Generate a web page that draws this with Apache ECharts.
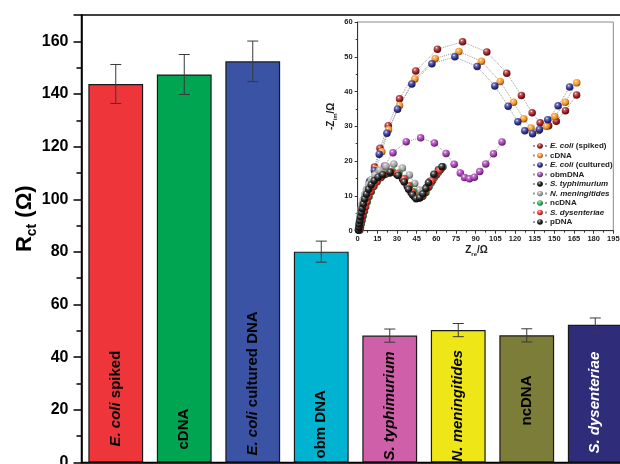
<!DOCTYPE html>
<html>
<head>
<meta charset="utf-8">
<script src="https://cdn.jsdelivr.net/npm/echarts@6/dist/echarts.min.js"></script>
<style>
  html, body { margin: 0; padding: 0; background: #ffffff; }
  #chart { width: 620px; height: 464px; }
</style>
</head>
<body>
<div id="chart"></div>
<script>
// ---- Charge-transfer resistance per DNA target ----
const categories = ['E. coli spiked', 'cDNA', 'E. coli cultured DNA', 'obm DNA',
  'S. typhimurium', 'N. meningitides', 'ncDNA', 'S. dysenteriae'];
const barLabels = ['{i|E. coli} spiked', 'cDNA', '{i|E. coli} cultured DNA', 'obm DNA',
  '{i|S. typhimurium}', '{i|N. meningitides}', 'ncDNA', '{i|S. dysenteriae}'];
const rctValues = [143.8, 147.4, 152.4, 80.1, 48.2, 50.3, 48.3, 52.3];
const rctErrors = [7.4, 7.6, 7.7, 4.0, 2.5, 2.5, 2.5, 2.6];
const rctTicks = [0, 20, 40, 60, 80, 100, 120, 140, 160];

// ---- Nyquist data (Zre, -Zim) in ohm ----
const ecoliSpiked = [[1.0,0.3],[1.5,1.2],[2.1,2.4],[2.9,3.9],[3.9,5.7],[5.1,7.7],[6.7,10.2],[8.9,13.9],[12.8,18.3],[17.0,23.7],[23.3,30.2],[31.9,37.9],[44.3,45.9],[60.8,52.2],[80.0,54.3],[98.5,51.4],[113.7,45.3],[124.9,38.9],[133.1,33.9],[139.2,31.0],[145.7,30.2],[151.5,31.5],[158.5,34.5],[167.0,39.0]];
const cdna = [[1.1,0.2],[1.6,1.1],[2.3,2.3],[3.1,3.8],[4.2,5.6],[5.6,7.7],[7.4,10.3],[9.9,13.6],[13.9,17.7],[18.4,22.7],[23.5,29.0],[31.9,36.0],[43.6,43.6],[59.1,49.5],[77.2,51.5],[94.4,48.7],[108.7,42.9],[118.9,36.9],[126.7,32.2],[132.2,29.5],[138.1,28.8],[144.0,30.0],[150.3,32.8],[158.4,36.9],[167.1,42.5]];
const ecoliCultured = [[0.9,0.3],[1.4,1.3],[2.0,2.6],[2.8,4.2],[3.8,6.2],[5.1,8.6],[6.8,11.3],[9.2,14.3],[12.7,17.3],[16.4,22.0],[22.3,28.0],[30.4,34.9],[41.3,42.2],[56.6,48.0],[74.1,50.0],[91.1,47.2],[104.6,41.6],[114.8,35.8],[122.2,31.3],[127.5,28.7],[133.4,27.9],[138.7,29.1],[145.0,31.9],[152.9,35.9],[161.7,41.3]];
const obmdna = [[0.7,0.3],[1.2,1.5],[1.8,2.8],[2.5,4.2],[3.4,5.7],[4.5,7.3],[5.8,9.0],[7.4,10.8],[9.4,12.7],[12.0,14.6],[15.5,16.6],[20.4,18.6],[26.9,22.4],[37.0,25.6],[48.0,26.7],[58.5,25.2],[67.4,22.2],[73.6,19.1],[78.3,16.6],[81.5,15.3],[85.3,14.9],[89.0,15.4],[93.1,17.0],[97.7,19.2],[103.6,22.1],[110.1,25.5]];
const sTyphimurium = [[0.7,0.2],[1.0,1.0],[1.4,1.9],[1.8,2.9],[2.3,4.0],[2.9,5.2],[3.6,6.4],[4.5,7.7],[5.6,9.1],[6.9,10.5],[8.5,11.9],[10.5,13.1],[13.0,14.2],[16.0,15.2],[19.6,16.0],[24.5,16.6],[29.8,16.2],[34.3,14.8],[37.8,12.8],[40.7,11.0],[43.2,9.8],[45.4,9.3],[47.7,9.6],[50.0,10.8],[52.5,12.4],[55.2,14.2],[58.3,16.0],[61.6,17.5],[64.8,18.4]];
const nMeningitides = [[0.5,0.5],[0.8,1.5],[1.1,2.6],[1.5,3.8],[2.0,5.0],[2.6,6.3],[3.3,7.6],[4.2,9.0],[5.3,10.4],[6.7,11.9],[8.4,13.3],[10.6,14.7],[13.3,16.0],[16.8,17.4],[21.6,18.6],[27.5,19.2],[34.1,18.0],[39.4,16.0],[43.5,13.6],[47.0,11.7],[50.2,11.3],[53.2,12.2],[56.0,13.7],[58.6,15.3],[61.7,16.8],[65.0,18.3]];
const ncdna = [[1.6,0.2],[2.1,1.0],[2.7,2.0],[3.4,3.1],[4.2,4.3],[5.1,5.6],[6.1,6.9],[7.3,8.3],[8.7,9.8],[10.4,11.3],[12.4,12.8],[14.9,14.2],[17.9,15.4],[21.6,16.4],[26.4,17.1],[31.4,16.6],[36.0,15.0],[39.6,13.0],[42.6,11.2],[45.1,10.0],[47.4,9.5],[49.7,9.9],[52.0,11.0],[54.5,12.6],[57.2,14.4],[60.2,16.1],[63.3,17.6]];
const sDysenteriae = [[1.3,0.2],[1.7,1.0],[2.3,2.0],[2.9,3.1],[3.7,4.3],[4.6,5.6],[5.6,6.9],[6.8,8.3],[8.2,9.8],[9.9,11.3],[11.9,12.7],[14.4,14.0],[17.4,15.2],[21.0,16.2],[25.6,16.9],[30.6,16.4],[35.2,14.9],[38.8,12.9],[41.8,11.1],[44.3,9.9],[46.6,9.4],[48.9,9.8],[51.2,10.9],[53.7,12.5],[56.4,14.3],[59.4,16.0],[62.4,17.4]];
const pdna = [[0.6,0.2],[0.9,1.0],[1.2,1.9],[1.6,2.9],[2.1,4.0],[2.7,5.2],[3.4,6.4],[4.3,7.7],[5.4,9.1],[6.7,10.5],[8.3,11.9],[10.3,13.2],[12.6,14.4],[15.6,15.4],[19.2,16.1],[24.8,16.8],[30.8,15.9],[35.5,14.0],[38.8,11.9],[41.9,10.3],[44.6,9.2],[47.3,9.5],[49.8,10.6],[52.0,12.1],[54.0,13.8],[58.2,16.2],[64.3,18.4]];

const barColors = ['#EE363A', '#00A551', '#3A53A4', '#00B4D1', '#CF5FA8', '#EEE617', '#7C7D38', '#2F2C7A'];
const barLabelColors = ['#000', '#000', '#000', '#000', '#000', '#000', '#000', '#fff'];
const barLabelDistances = [16, 13, 7, 4, 2, 1, 37, 9];

const font = 'Liberation Sans, Arial, Helvetica, sans-serif';

function shade(hex, f) {
  const n = parseInt(hex.slice(1), 16);
  const r = (n >> 16) & 255, g = (n >> 8) & 255, b = n & 255;
  const m = v => Math.max(0, Math.min(255, Math.round(f < 0 ? v * (1 + f) : v + (255 - v) * f)));
  return 'rgb(' + m(r) + ',' + m(g) + ',' + m(b) + ')';
}
function sphere(hex) {
  return {
    type: 'radial', x: 0.38, y: 0.32, r: 0.72,
    colorStops: [
      { offset: 0, color: '#ffffff' },
      { offset: 0.2, color: shade(hex, 0.35) },
      { offset: 0.6, color: hex },
      { offset: 1, color: shade(hex, -0.55) }
    ]
  };
}

const nyquist = [
  { name: 'E. coli (spiked)', label: '{i|E. coli} (spiked)', data: ecoliSpiked, color: '#9E1D22' },
  { name: 'cDNA', label: 'cDNA', data: cdna, color: '#F7921E' },
  { name: 'E. coli (cultured)', label: '{i|E. coli} (cultured)', data: ecoliCultured, color: '#2E3191' },
  { name: 'obmDNA', label: 'obmDNA', data: obmdna, color: '#A33BB1' },
  { name: 'S. typhimurium', label: '{i|S. typhimurium}', data: sTyphimurium, color: '#151515' },
  { name: 'N. meningitides', label: '{i|N. meningitides}', data: nMeningitides, color: '#A6A6A6' },
  { name: 'ncDNA', label: 'ncDNA', data: ncdna, color: '#22B14C' },
  { name: 'S. dysenteriae', label: '{i|S. dysenteriae}', data: sDysenteriae, color: '#EE3030' },
  { name: 'pDNA', label: 'pDNA', data: pdna, color: '#1A1A1A' }
];
const legendText = {};
nyquist.forEach(s => { legendText[s.name] = s.label; });

const chart = echarts.init(document.getElementById('chart'), null, { renderer: 'canvas' });

const option = {
  animation: false,
  backgroundColor: '#ffffff',
  textStyle: { fontFamily: font },
  grid: [
    { left: 81.5, top: 15, right: -9.5, bottom: 1.5, outerBoundsMode: 'none', containLabel: false,
      show: true, borderColor: '#000', borderWidth: 1.5, backgroundColor: 'transparent' },
    { left: 357.7, top: 22, right: 6.7, bottom: 233.3, outerBoundsMode: 'none', containLabel: false,
      show: true, borderColor: '#8a8a8a', borderWidth: 1, backgroundColor: 'transparent' }
  ],
  legend: {
    orient: 'vertical', left: 532, top: 142,
    itemWidth: 14, itemHeight: 7, itemGap: 1.5,
    padding: 0,
    data: nyquist.map(s => s.name),
    formatter: name => legendText[name],
    textStyle: {
      fontFamily: font, fontSize: 8, fontWeight: 'bold', color: '#222', padding: [0, 0, 0, -2],
      rich: { i: { fontFamily: font, fontSize: 8, fontWeight: 'bold', fontStyle: 'italic', color: '#222' } }
    }
  },
  xAxis: [
    {
      type: 'category', gridIndex: 0, data: categories,
      axisLine: { lineStyle: { color: '#000', width: 1.5 } },
      axisTick: { show: false }, axisLabel: { show: false }, splitLine: { show: false }
    },
    {
      type: 'value', gridIndex: 1, min: 0, max: 195, interval: 15,
      name: '{z|Z}{s|re}{z|/Ω}', nameLocation: 'middle', nameGap: 13, nameMoveOverlap: false,
      nameTextStyle: {
        padding: [0, 18, 0, 0],
        rich: {
          z: { fontFamily: font, fontSize: 10, fontWeight: 'bold', color: '#222', lineHeight: 14 },
          s: { fontFamily: font, fontSize: 6, fontWeight: 'bold', color: '#222', lineHeight: 6, verticalAlign: 'bottom' }
        }
      },
      axisLine: { onZero: false, lineStyle: { color: '#333', width: 1 } },
      axisTick: { show: true, inside: false, length: 3, lineStyle: { color: '#333' } },
      minorTick: { show: true, splitNumber: 2, length: 2, lineStyle: { color: '#333' } },
      axisLabel: { fontFamily: font, fontSize: 7.5, fontWeight: 'bold', color: '#222', margin: 4 },
      splitLine: { show: false }
    }
  ],
  yAxis: [
    {
      type: 'value', gridIndex: 0, min: 0, max: 170, interval: 20,
      name: '{r|R}{s|ct}{r| (Ω)}', nameLocation: 'middle', nameGap: 42, nameRotate: 90, nameMoveOverlap: false,
      nameTextStyle: {
        padding: [0, 0, 0, 40],
        rich: {
          r: { fontFamily: font, fontSize: 22, fontWeight: 'bold', color: '#000', lineHeight: 30 },
          s: { fontFamily: font, fontSize: 14, fontWeight: 'bold', color: '#000', lineHeight: 14, verticalAlign: 'bottom' }
        }
      },
      axisLine: { show: true, lineStyle: { color: '#000', width: 1.5 } },
      axisTick: { show: true, inside: false, length: 8, lineStyle: { color: '#000', width: 1.5 } },
      minorTick: { show: true, splitNumber: 2, length: 5, lineStyle: { color: '#000', width: 1.5 } },
      axisLabel: {
        fontFamily: font, fontSize: 16, fontWeight: 'bold', color: '#000', margin: 13,
        showMaxLabel: false,
        formatter: v => (rctTicks.indexOf(v) >= 0 ? String(v) : '')
      },
      splitLine: { show: false }
    },
    {
      type: 'value', gridIndex: 1, min: 0, max: 60, interval: 10,
      name: '{z|-Z}{s|im}{z|/Ω}', nameLocation: 'middle', nameGap: 19, nameRotate: 90, nameMoveOverlap: false,
      nameTextStyle: {
        padding: [0, 0, 0, 20],
        rich: {
          z: { fontFamily: font, fontSize: 10, fontWeight: 'bold', color: '#222', lineHeight: 14 },
          s: { fontFamily: font, fontSize: 6, fontWeight: 'bold', color: '#222', lineHeight: 6, verticalAlign: 'bottom' }
        }
      },
      axisLine: { show: true, onZero: false, lineStyle: { color: '#333', width: 1 } },
      axisTick: { show: true, inside: false, length: 3, lineStyle: { color: '#333' } },
      minorTick: { show: true, splitNumber: 2, length: 2, lineStyle: { color: '#333' } },
      axisLabel: { fontFamily: font, fontSize: 7.5, fontWeight: 'bold', color: '#222', margin: 5 },
      splitLine: { show: false }
    }
  ],
  series: [
    {
      type: 'bar', xAxisIndex: 0, yAxisIndex: 0, barCategoryGap: '20%',
      data: rctValues.map((v, i) => ({
        value: v,
        itemStyle: { color: barColors[i], borderColor: '#1a1a1a', borderWidth: 1.2 },
        label: {
          show: true, position: 'insideBottom', rotate: 90, align: 'left', verticalAlign: 'middle',
          distance: barLabelDistances[i],
          formatter: barLabels[i],
          fontFamily: font, fontSize: 15, fontWeight: 'bold', color: barLabelColors[i],
          rich: { i: { fontFamily: font, fontSize: 15, fontWeight: 'bold', fontStyle: 'italic', color: barLabelColors[i] } }
        }
      }))
    },
    {
      type: 'custom', xAxisIndex: 0, yAxisIndex: 0, z: 5,
      data: rctValues.map((v, i) => [i, v - rctErrors[i], v + rctErrors[i]]),
      renderItem: (params, api) => {
        const lo = api.coord([api.value(0), api.value(1)]);
        const hi = api.coord([api.value(0), api.value(2)]);
        const w = 5.5;
        const st = { stroke: '#3a3a3a', lineWidth: 1 };
        return {
          type: 'group', children: [
            { type: 'line', shape: { x1: hi[0], y1: hi[1], x2: lo[0], y2: lo[1] }, style: st },
            { type: 'line', shape: { x1: hi[0] - w, y1: hi[1], x2: hi[0] + w, y2: hi[1] }, style: st },
            { type: 'line', shape: { x1: lo[0] - w, y1: lo[1], x2: lo[0] + w, y2: lo[1] }, style: st }
          ]
        };
      }
    }
  ].concat(nyquist.map(s => ({
    type: 'line', name: s.name, xAxisIndex: 1, yAxisIndex: 1, z: 10,
    data: s.data,
    symbol: 'circle', symbolSize: 7.5, showSymbol: true,
    lineStyle: { type: 'dotted', color: '#9a9a9a', width: 1 },
    itemStyle: { color: sphere(s.color), borderWidth: 0 },
    emphasis: { disabled: true }
  })))
};

chart.setOption(option);
</script>
</body>
</html>
